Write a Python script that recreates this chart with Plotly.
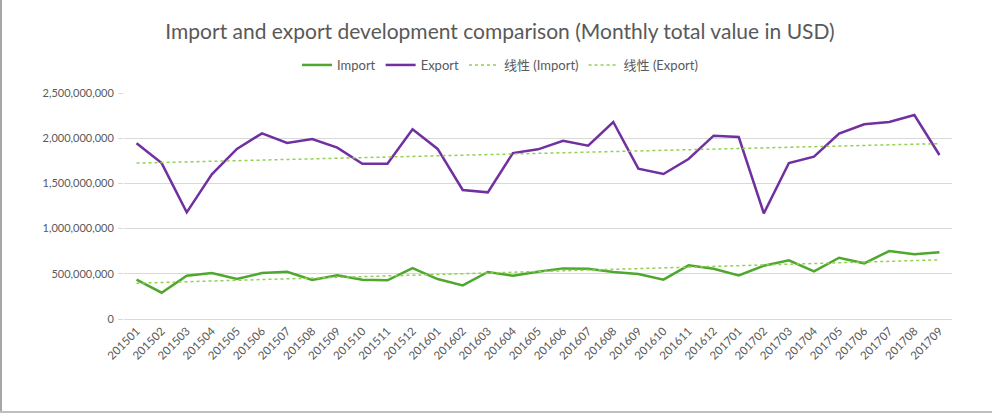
import numpy as np
import plotly.graph_objects as go

months = ["201501","201502","201503","201504","201505","201506","201507","201508","201509","201510",
          "201511","201512","201601","201602","201603","201604","201605","201606","201607","201608",
          "201609","201610","201611","201612","201701","201702","201703","201704","201705","201706",
          "201707","201708","201709"]

import_vals = [435e6, 291e6, 479e6, 509e6, 442e6, 509e6, 523e6, 431e6, 483e6, 435e6,
               428e6, 564e6, 442e6, 372e6, 520e6, 479e6, 523e6, 560e6, 556e6, 520e6,
               498e6, 435e6, 594e6, 556e6, 483e6, 590e6, 649e6, 527e6, 678e6, 616e6,
               752e6, 715e6, 738e6]

export_vals = [1943e6, 1725e6, 1180e6, 1601e6, 1881e6, 2054e6, 1947e6, 1991e6, 1895e6, 1718e6,
               1718e6, 2098e6, 1881e6, 1427e6, 1401e6, 1836e6, 1877e6, 1972e6, 1917e6, 2179e6,
               1663e6, 1604e6, 1770e6, 2028e6, 2013e6, 1169e6, 1726e6, 1796e6, 2050e6, 2154e6,
               2179e6, 2257e6, 1814e6]

idx = np.arange(len(months))
imp_fit = np.polyval(np.polyfit(idx, import_vals, 1), idx)
exp_fit = np.polyval(np.polyfit(idx, export_vals, 1), idx)

green = "#4EA72E"
purple = "#7030A0"
trend = "#92D050"
font = "Lato, 'Open Sans', sans-serif"

fig = go.Figure()
fig.add_trace(go.Scatter(x=months, y=import_vals, mode="lines", name="Import",
                         line=dict(color=green, width=2.5)))
fig.add_trace(go.Scatter(x=months, y=export_vals, mode="lines", name="Export",
                         line=dict(color=purple, width=2.5)))
fig.add_trace(go.Scatter(x=months, y=imp_fit, mode="lines", name="线性 (Import)",
                         line=dict(color=trend, width=1.5, dash="dot")))
fig.add_trace(go.Scatter(x=months, y=exp_fit, mode="lines", name="线性 (Export)",
                         line=dict(color=trend, width=1.5, dash="dot")))

W, H = 1000, 414
L, R, T, B = 124, 48, 93, 95
pw, ph = W - L - R, H - T - B

fig.update_layout(
    width=W, height=H,
    paper_bgcolor="white", plot_bgcolor="white",
    margin=dict(l=L, r=R, t=T, b=B, autoexpand=False),
    font=dict(family=font, color="#595959", size=11),
    title=dict(text="Import and export development comparison (Monthly total value in USD)",
               xref="container", yref="container",
               x=0.5, xanchor="center", y=1 - 32 / H, yanchor="middle",
               font=dict(size=21, color="#595959", family=font)),
    legend=dict(orientation="h", xref="container", yref="container",
                x=0.5, xanchor="center", y=1 - 65 / H, yanchor="middle",
                font=dict(size=13, color="#595959", family=font + ", 'Noto Sans CJK SC'"),
                itemwidth=30, tracegroupgap=0),
    showlegend=True,
    xaxis=dict(type="category", tickangle=-45, showgrid=False, showline=True,
               linecolor="#D9D9D9", linewidth=1, ticks="", range=[-0.5, 32.5],
               tickfont=dict(size=11.5, color="#595959")),
    yaxis=dict(range=[0, 2.5e9], tickvals=[0, 5e8, 1e9, 1.5e9, 2e9, 2.5e9],
               tickformat=",d", showgrid=True, gridcolor="#D9D9D9", gridwidth=1,
               zeroline=False, ticks="outside", ticklen=5, tickcolor="#D9D9D9",
               tickfont=dict(size=11, color="#595959"), ticklabelstandoff=2),
    shapes=[
        dict(type="line", xref="paper", yref="paper", x0=-(L - 1) / pw, x1=-(L - 1) / pw,
             y0=-(B - 2) / ph, y1=1 + T / ph, line=dict(color="#A6A6A6", width=2)),
        dict(type="line", xref="paper", yref="paper", x0=-L / pw, x1=1 + (R - 8) / pw,
             y0=-(B - 2) / ph, y1=-(B - 2) / ph, line=dict(color="#BFBFBF", width=2)),
    ],
)

fig.write_html("out.html", config={"displayModeBar": False},
               post_script="document.body.style.margin='0';document.body.style.padding='0';"
                           "document.body.style.overflow='hidden';")
